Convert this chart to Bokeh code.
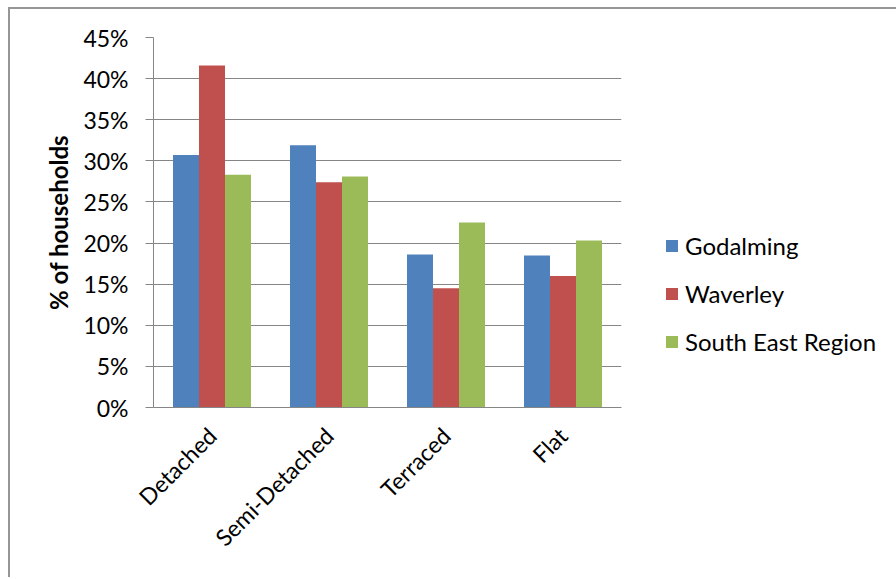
from bokeh.plotting import figure
from bokeh.models import (FactorRange, Range1d, ColumnDataSource, Legend, LegendItem,
                          SingleIntervalTicker, PrintfTickFormatter)
from bokeh.transform import dodge
from bokeh.embed import file_html
from bokeh.resources import INLINE
import math

categories = ["Detached", "Semi-Detached", "Terraced", "Flat"]
series_names = ["Godalming", "Waverley", "South East Region"]
godalming = [30.7, 31.9, 18.6, 18.5]
waverley = [41.6, 27.4, 14.5, 16.0]
south_east = [28.3, 28.1, 22.5, 20.3]
colors = ["#4F81BD", "#C0504D", "#9BBB59"]

FONT = "Lato"
FS = "23px"

src = ColumnDataSource(dict(cat=categories, g=godalming, w=waverley, s=south_east))

p = figure(x_range=FactorRange(*categories), y_range=Range1d(0, 45),
           frame_width=468, frame_height=370,
           min_border_left=143, min_border_top=28, min_border_right=260, min_border_bottom=170,
           output_backend="svg", toolbar_location=None)
p.styles = {"margin-left": "8px", "margin-top": "7px",
            "border-top": "2px solid #969696", "border-left": "2px solid #969696"}
p.outline_line_color = None

bw = 26 / 117
renderers = []
for i, (col, c) in enumerate(zip(["g", "w", "s"], colors)):
    r = p.vbar(x=dodge("cat", (i - 1) * bw, range=p.x_range), top=col, width=bw,
               source=src, fill_color=c, line_color=None)
    renderers.append(r)

p.yaxis.ticker = SingleIntervalTicker(interval=5)
p.yaxis.formatter = PrintfTickFormatter(format="%d%%")
p.yaxis.axis_label = "% of households"
p.yaxis.axis_label_text_font = FONT
p.yaxis.axis_label_text_font_size = "24px"
p.yaxis.axis_label_text_font_style = "bold"
p.yaxis.axis_label_text_color = "black"
p.yaxis.axis_label_standoff = 7
p.yaxis.major_label_text_font = FONT
p.yaxis.major_label_text_font_size = FS
p.yaxis.major_label_text_color = "black"
p.yaxis.major_label_standoff = 17
p.yaxis.major_tick_out = 8
p.yaxis.major_tick_in = 0
p.yaxis.minor_tick_line_color = None
p.yaxis.axis_line_color = "#868686"
p.yaxis.major_tick_line_color = "#868686"

p.xaxis.major_label_orientation = math.pi / 4
p.xaxis.major_label_text_font = FONT
p.xaxis.major_label_text_font_size = FS
p.xaxis.major_label_text_color = "black"
p.xaxis.major_tick_line_color = None
p.xaxis.axis_line_color = "#868686"
p.xaxis.major_label_standoff = 18

p.xgrid.grid_line_color = None
p.ygrid.grid_line_color = "#868686"
p.ygrid.grid_line_width = 1

legend = Legend(items=[LegendItem(label=n, renderers=[r]) for n, r in zip(series_names, renderers)],
                location=(43, 51), glyph_width=15, glyph_height=15, label_standoff=6,
                label_height=25, spacing=19, padding=0, margin=0,
                border_line_color=None, background_fill_alpha=0,
                label_text_font=FONT, label_text_font_size="24px", label_text_color="black")
p.add_layout(legend, "right")

open("out.html", "w").write(file_html(p, INLINE))
